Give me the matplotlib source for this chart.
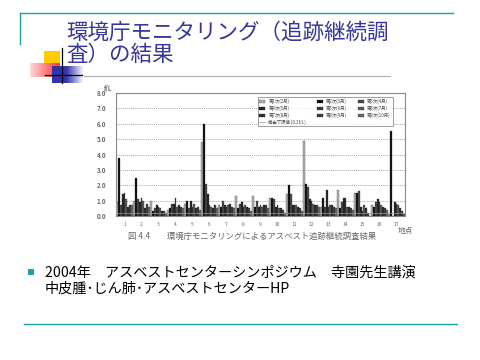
import numpy as np
import matplotlib
matplotlib.use("Agg")
import matplotlib.pyplot as plt
from matplotlib.patches import Rectangle

plt.rcParams['font.family'] = ['Noto Sans CJK JP', 'DejaVu Sans']

# ---------------------------------------------------------------
# Data (f/L per site, 9 survey rounds)
# ---------------------------------------------------------------
sites = [str(i) for i in range(1, 18)]
rounds = ["第1次(2月)", "第2次(3月)", "第3次(4月)",
          "第4次(5月)", "第5次(6月)", "第6次(7月)",
          "第7次(8月)", "第8次(9月)", "第9次(10月)"]
limit_label = "検出下限値 (0.2f/L)"
limit_value = 0.2

values = np.array([
    [0.9, 3.8, 0.7, 1.4, 1.5, 1.1, 0.6, 0.7, 0.7],
    [1.0, 2.5, 1.1, 0.9, 1.2, 1.0, 0.5, 0.8, 0.6],
    [1.0, 0.3, 0.5, 0.7, 0.6, 0.5, 0.3, 0.3, 0.2],
    [0.4, 0.5, 0.8, 0.8, 1.2, 0.6, 0.7, 0.6, 0.5],
    [0.8, 1.0, 0.5, 1.0, 0.6, 0.8, 0.5, 0.6, 0.4],
    [4.8, 6.0, 2.1, 1.4, 0.7, 0.6, 0.5, 0.7, 0.5],
    [0.7, 0.6, 1.0, 0.7, 0.6, 0.7, 0.8, 0.6, 0.5],
    [1.3, 0.5, 0.8, 0.9, 0.6, 0.7, 0.6, 0.5, 0.3],
    [1.3, 0.6, 1.0, 0.6, 0.7, 0.6, 0.7, 0.7, 0.5],
    [1.2, 1.2, 1.1, 0.6, 0.7, 0.5, 0.5, 0.4, 0.2],
    [1.4, 2.0, 1.4, 0.7, 0.7, 0.7, 0.6, 0.5, 0.3],
    [4.9, 2.1, 1.9, 1.1, 1.0, 0.8, 0.7, 0.7, 0.6],
    [0.6, 1.2, 0.6, 1.7, 0.6, 0.7, 0.7, 0.6, 0.5],
    [1.7, 0.5, 0.9, 1.2, 1.2, 0.6, 0.6, 0.5, 0.4],
    [1.5, 1.5, 1.6, 0.6, 0.3, 0.7, 0.5, 0.2, 0.0],
    [0.7, 0.6, 0.9, 1.1, 0.9, 0.7, 0.6, 0.5, 0.4],
    [0.1, 5.5, 0.0, 0.9, 0.8, 0.7, 0.5, 0.3, 0.1],
])

title_lines = ["環境庁モニタリング（追跡継続調", "査）の結果"]
caption = "図 4.4　　環境庁モニタリングによるアスベスト追跡継続調査結果"
bullet_lines = ["2004年　アスベストセンターシンポジウム　寺園先生講演",
                "中皮腫･じん肺･アスベストセンターHP"]

bar_colors = ["#b4b4b4", "#111111", "#4a4a4a", "#262626", "#3c3c3c",
              "#5a5a5a", "#2e2e2e", "#404040", "#6a6a6a"]
teal = "#1aa3a3"
title_color = "#36369a"
chart_text = "#666666"

fig = plt.figure(figsize=(4.8, 3.6), dpi=100)

# background layer in pixel coordinates
bg = fig.add_axes([0, 0, 1, 1])
bg.set_xlim(0, 480)
bg.set_ylim(360, 0)
bg.axis('off')

# slide frame lines
bg.plot([20, 453], [13, 13], color=teal, lw=1.0)
bg.plot([20, 20], [13, 44], color=teal, lw=1.0)
bg.plot([24, 457], [324, 324], color=teal, lw=1.0)

# decorative blocks
bg.add_patch(Rectangle((44, 51), 16, 16, color="#ffcc00", lw=0))
red = np.linspace(0, 1, 64)[None, :]
red_img = np.dstack([np.ones_like(red), 0.85 - 0.65 * red, 0.85 - 0.65 * red])
bg.imshow(red_img, extent=(30, 60, 77, 63), aspect='auto', zorder=2)
blue = np.linspace(0, 1, 64)[None, :]
w = np.clip((blue - 0.45) / 0.55, 0, 1)
blue_img = np.dstack([0.2 + 0.8 * w, 0.2 + 0.8 * w, 0.67 + 0.33 * w])
bg.imshow(blue_img, extent=(52, 84, 83, 66), aspect='auto', zorder=3)
bg.plot([62, 62], [48, 83], color="black", lw=0.9, zorder=4)
bg.plot([45, 82], [75, 75], color="black", lw=0.9, zorder=4)
bg.plot([82, 390], [75.5, 75.5], color="#b0b0b0", lw=0.8, zorder=1)

# title
for i, line in enumerate(title_lines):
    bg.text(66, 33 + 22 * i, line, fontsize=15.5, color=title_color,
            va='center', ha='left')

# chart caption
bg.text(128, 236, caption, fontsize=6, color=chart_text, va='center', ha='left')
bg.text(398, 231, "地点", fontsize=5.5, color=chart_text, va='center', ha='left')
bg.text(104, 88, "f/L", fontsize=4.5, color=chart_text, va='center', ha='left',
        fontweight='bold')

# bullet
bg.add_patch(Rectangle((28, 269), 6, 6, color=teal, lw=0))
for i, line in enumerate(bullet_lines):
    bg.text(45, 272 + 17 * i, line, fontsize=10.2, color="black",
            va='center', ha='left')

# chart
ax = fig.add_axes([116 / 480, 1 - 216 / 360, 289 / 480, 123 / 360])
n_sites, n_rounds = values.shape
x = np.arange(n_sites)
width = 0.98 / n_rounds
handles = []
for j in range(n_rounds):
    b = ax.bar(x - 0.49 + width * (j + 0.5), values[:, j], width,
               color=bar_colors[j], edgecolor="#222222", linewidth=0.2,
               label=rounds[j], zorder=3)
    handles.append(b)
lim, = ax.plot([-0.5, n_sites - 0.5], [limit_value, limit_value],
               color="#999999", lw=0.5, zorder=4, label=limit_label)

ax.set_xlim(-0.5, n_sites - 0.5)
ax.set_ylim(0, 8)
ax.set_yticks(np.arange(0, 9))
ax.set_yticklabels([f"{v:.1f}" for v in range(9)])
ax.set_xticks(x)
ax.set_xticklabels(sites)
ax.tick_params(axis='y', labelsize=4.5, colors=chart_text, length=0, pad=7)
ax.tick_params(axis='x', labelsize=3.5, colors=chart_text, length=0, pad=4)
for lab in ax.get_yticklabels():
    lab.set_fontweight('bold')
ax.grid(axis='y', linestyle=(0, (1.5, 1.5)), color="#888888", lw=0.5, zorder=1)
for s in ax.spines.values():
    s.set_color("#888888")
    s.set_linewidth(0.8)

order = [0, 3, 6, 9, 1, 4, 7, 2, 5, 8]
all_handles = handles + [lim]
all_labels = rounds + [limit_label]
leg = ax.legend([all_handles[k] for k in order], [all_labels[k] for k in order],
                ncol=3, fontsize=3.2, loc='upper right',
                bbox_to_anchor=(0.965, 0.985), frameon=True, fancybox=False,
                edgecolor="#555555", handlelength=1.2, handleheight=0.8,
                columnspacing=2.5, labelspacing=0.3, borderpad=0.4)
leg.get_frame().set_linewidth(0.5)
for t in leg.get_texts():
    t.set_color("#444444")

fig.savefig("out.png", dpi=100)
